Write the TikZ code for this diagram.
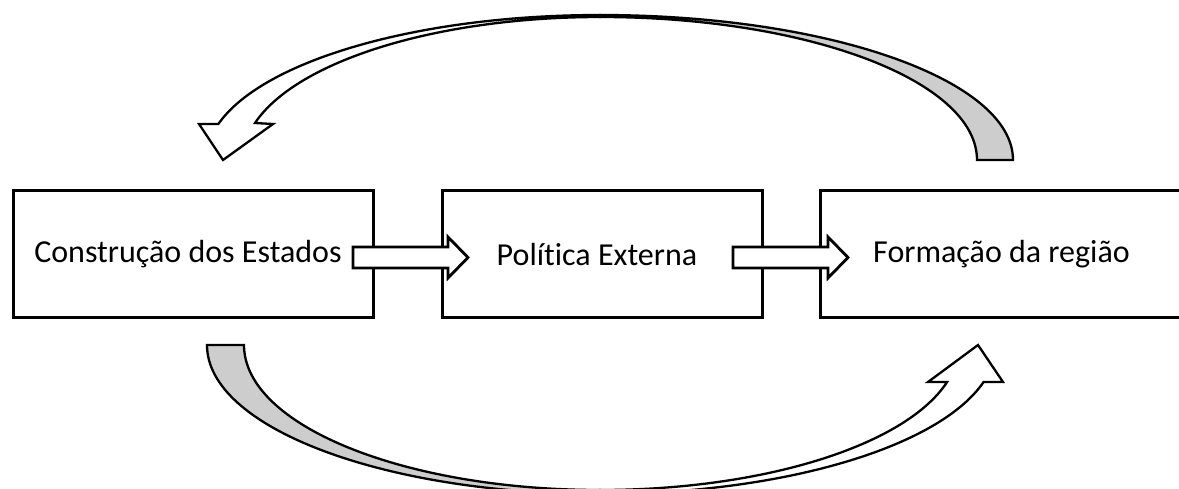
\documentclass[tikz,border=0pt]{standalone}
\usepackage{fontspec}
\setmainfont{Carlito}[Ligatures=NoCommon]
\definecolor{backgrey}{RGB}{205,205,205}
\begin{document}
\begin{tikzpicture}[x=1pt,y=-1pt,
  box/.style={draw, line width=3pt, minimum height=127pt, inner sep=0pt},
  lbl/.style={inner sep=0pt, font=\fontsize{32}{38}\selectfont},
  blockarrow/.style={draw, line width=2.8pt, fill=white, line join=miter},
  curvefront/.style={draw, line width=2.3pt, fill=white, line join=miter},
  curveback/.style={draw, line width=2.3pt, fill=backgrey, line join=miter},
]
\useasboundingbox (0,0) rectangle (1179,488);

% the three stages
\node[box, minimum width=360pt] (cons) at (193,253.5) {};
\node[box, minimum width=320pt] (pol)  at (602,253.5) {};
\node[box, minimum width=363pt] (form) at (1001.5,253.5) {};
\node[lbl] (consl) at ([xshift=-5pt,yshift=-1pt]cons.center) {Construção dos Estados};
\node[lbl] (poll)  at ([xshift=-5pt,yshift=-1pt]pol.center)  {Política Externa};
\node[lbl] (forml) at ([xshift=0pt,yshift=-1pt]form.center)  {Formação da região};

% straight block arrows between the stages
\coordinate (a1) at (353,257.5);
\coordinate (a2) at (733,257.5);
\foreach \c in {a1,a2}{
  \draw[blockarrow] (\c) ++(0,-10.5) -- ++(95,0) -- ++(0,-10) -- ++(20,20.5)
    -- ++(-20,20.5) -- ++(0,-10) -- ++(-95,0) -- cycle;
}

% upper curved arrow: back face (grey) then front face with head
\draw[curveback] (1013,160) arc[start angle=0, end angle=-90, x radius=413, y radius=145]
  -- (600,17) arc[start angle=-90, end angle=0, x radius=377, y radius=143] -- cycle;
\draw[curvefront] (600,15) arc[start angle=-90, end angle=-165.64, x radius=394, y radius=145]
  -- (199,124) -- (223,160) -- (273,124) -- (255,123)
  arc[start angle=-165, end angle=-90, x radius=357, y radius=143] -- cycle;

% lower curved arrow: back face (grey) then front face with head
\draw[curveback] (207,345) arc[start angle=180, end angle=90, x radius=393, y radius=149]
  -- (600,490) arc[start angle=90, end angle=180, x radius=356, y radius=145] -- cycle;
\draw[curvefront] (600,494) arc[start angle=90, end angle=14.38, x radius=396, y radius=149]
  -- (1003,382) -- (978,345) -- (928,382) -- (947.1,382)
  arc[start angle=14.78, end angle=90, x radius=359, y radius=145] -- cycle;
\end{tikzpicture}
\end{document}
